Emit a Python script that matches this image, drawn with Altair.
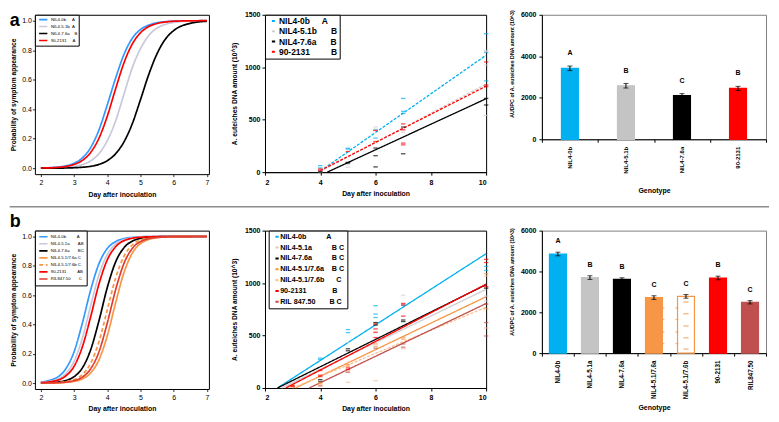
import json
import altair as alt
import pandas as pd

FONT = "Liberation Sans"
NB = "\u00a0"

# ======================= ROW a =======================
# ---- a1: probability of symptom appearance (R curves) ----
a1_genotypes = ["NIL4-0b", "NIL4-5.1b", "NIL4-7.6a", "90-2131"]
a1_labels = ["NIL4-0b" + NB * 5 + "A", "NIL4-5.1b" + NB * 2 + "A",
             "NIL4-7.6a" + NB * 4 + "B", "90-2131" + NB * 5 + "A"]
a1_colors = ["#3399FF", "#C8C8DC", "#000000", "#FF0000"]
a1_days = [2, 2.5, 3, 3.25, 3.5, 3.75, 4, 4.25, 4.5, 4.75, 5, 5.25, 5.5, 5.75, 6, 6.5, 7]
a1_nil4_0b = [0.002, 0.008, 0.034, 0.070, 0.14, 0.26, 0.43, 0.61, 0.77, 0.88, 0.94, 0.97, 0.986, 0.993, 0.997, 0.999, 1.0]
a1_nil4_51b = [0.001, 0.003, 0.012, 0.025, 0.050, 0.099, 0.187, 0.32, 0.50, 0.68, 0.81, 0.90, 0.95, 0.975, 0.988, 0.997, 0.999]
a1_nil4_76a = [0.0002, 0.0008, 0.0034, 0.0067, 0.013, 0.026, 0.051, 0.098, 0.178, 0.30, 0.465, 0.636, 0.777, 0.875, 0.933, 0.982, 0.996]
a1_90_2131 = [0.0013, 0.0058, 0.026, 0.053, 0.107, 0.204, 0.353, 0.538, 0.713, 0.841, 0.918, 0.960, 0.981, 0.991, 0.996, 0.999, 1.0]

# ---- a2: DNA amount over days (Excel scatter + fits) ----
a2_genotypes = ["NIL4-0b", "NIL4-5.1b", "NIL4-7.6a", "90-2131"]
a2_labels = ["NIL4-0b" + NB * 5 + "A", "NIL4-5.1b" + NB * 6 + "B",
             "NIL4-7.6a" + NB * 6 + "B", "90-2131" + NB * 9 + "B"]
a2_colors = ["#00B0F0", "#D0D0D0", "#000000", "#FF0000"]
a2_dashes = [[3, 1.5], [3, 1.5], [1, 0], [3, 1.5]]
a2_nil4_0b_day = [4, 4, 5, 5, 6, 6, 7, 7, 7, 10, 10, 10]
a2_nil4_0b_val = [62, 40, 228, 220, 405, 325, 703, 580, 560, 1320, 1140, 870]
a2_nil4_51b_day = [4, 4, 5, 5, 6, 6, 7, 10, 10, 10, 10]
a2_nil4_51b_val = [3, 20, 70, 47, 430, 410, 380, 1160, 1150, 1020, 540]
a2_nil4_76a_day = [4, 5, 5, 6, 6, 6, 7, 7, 10, 10]
a2_nil4_76a_val = [5, 93, 87, 230, 157, 50, 430, 175, 703, 640]
a2_90_2131_day = [4, 4, 5, 6, 6, 7, 7, 7, 7, 10, 10, 10]
a2_90_2131_val = [30, 17, 197, 397, 292, 460, 403, 277, 260, 1050, 830, 815]
a2_fit_start_day = [4, 4, 4.25, 4]
a2_fit_start_val = [10, 5, 0, 15]
a2_fit_end_day = [10, 10, 10, 10]
a2_fit_end_val = [1115, 840, 700, 820]

# ---- a3: AUDPC bars ----
a3_genotypes = ["NIL4-0b", "NIL4-5.1b", "NIL4-7.6a", "90-2131"]
a3_means = [3420, 2580, 2100, 2450]
a3_errs = [110, 110, 100, 100]
a3_letters = ["A", "B", "C", "B"]
a3_colors = ["#00B0F0", "#C4C4C4", "#000000", "#FF0000"]

# ======================= ROW b =======================
b1_genotypes = ["NIL4-0b", "NIL4-5.1a", "NIL4-7.6a", "NIL4-5.1/7.6a", "NIL4-5.1/7.6b", "90-2131", "RIL847.50"]
b1_labels = ["NIL4-0b" + NB * 9 + "A", "NIL4-5.1a" + NB * 7 + "AB" + NB * 3,
             "NIL4-7.6a" + NB * 7 + "BC", "NIL4-5.1/7.6a" + NB + "C",
             "NIL4-5.1/7.6b" + NB + "C", "90-2131" + NB * 9 + "AB", "RIL847.50" + NB * 7 + "C"]
b1_colors = ["#3399FF", "#C8C8DC", "#000000", "#F79646", "#F79646", "#FF0000", "#E03C31"]
b1_dashes = [[1, 0], [1, 0], [1, 0], [1, 0], [4, 2.5], [1, 0], [1, 0]]
b1_days = [2, 2.5, 2.75, 3, 3.25, 3.5, 3.75, 4, 4.25, 4.5, 4.75, 5, 5.5, 6, 7]
b1_nil4_0b = [0.007, 0.041, 0.098, 0.214, 0.41, 0.636, 0.815, 0.918, 0.965, 0.986, 0.994, 0.998, 1.0, 1.0, 1.0]
b1_nil4_51a = [0.004, 0.027, 0.065, 0.149, 0.307, 0.528, 0.739, 0.877, 0.947, 0.978, 0.991, 0.997, 1.0, 1.0, 1.0]
b1_nil4_76a = [0.001, 0.007, 0.018, 0.044, 0.104, 0.228, 0.426, 0.652, 0.826, 0.923, 0.968, 0.987, 0.998, 1.0, 1.0]
b1_nil4_5176a = [0.0003, 0.002, 0.005, 0.012, 0.029, 0.070, 0.159, 0.323, 0.547, 0.752, 0.885, 0.951, 0.992, 0.999, 1.0]
b1_nil4_5176b = [0.0006, 0.004, 0.010, 0.024, 0.058, 0.136, 0.283, 0.50, 0.717, 0.864, 0.942, 0.976, 0.996, 0.999, 1.0]
b1_90_2131 = [0.003, 0.020, 0.049, 0.115, 0.248, 0.453, 0.677, 0.841, 0.930, 0.971, 0.988, 0.995, 0.999, 1.0, 1.0]
b1_ril84750 = [0.0004, 0.003, 0.007, 0.017, 0.041, 0.098, 0.214, 0.41, 0.636, 0.815, 0.918, 0.965, 0.994, 0.999, 1.0]

b2_genotypes = b1_genotypes
b2_labels = ["NIL4-0b" + NB * 10 + "A", "NIL4-5.1a" + NB * 10 + "B" + NB + "C",
             "NIL4-7.6a" + NB * 10 + "B" + NB + "C", "NIL4-5.1/7.6a" + NB * 4 + "B" + NB + "C",
             "NIL4-5.1/7.6b" + NB * 6 + "C", "90-2131" + NB * 13 + "B",
             "RIL" + NB + "847.50" + NB * 7 + "B" + NB + "C"]
b2_colors = ["#00B0F0", "#CFCFCF", "#000000", "#F79646", "#FAC090", "#FF0000", "#C0504D"]
b2_dashes = [[1, 0], [1, 0], [1, 0], [1, 0], [3, 1.5], [1, 0], [1, 0]]
b2_nil4_0b_day = [4, 4, 5, 5, 6, 6, 6, 7, 10, 10]
b2_nil4_0b_val = [285, 272, 557, 528, 785, 705, 672, 790, 1160, 1120]
b2_nil4_51a_day = [4, 5, 6, 6, 7, 10, 10]
b2_nil4_51a_val = [70, 435, 620, 526, 885, 876, 830]
b2_nil4_76a_day = [4, 4, 5, 5, 6, 6, 7, 7, 10]
b2_nil4_76a_val = [80, 60, 374, 355, 624, 600, 648, 633, 952]
b2_nil4_5176a_day = [3, 4, 4, 5, 5, 6, 6, 7, 7, 10, 10]
b2_nil4_5176a_val = [9, 55, 40, 222, 207, 420, 398, 481, 465, 1089, 754]
b2_nil4_5176b_day = [4, 5, 5, 6, 7, 10, 10]
b2_nil4_5176b_val = [30, 161, 55, 70, 374, 1068, 572]
b2_90_2131_day = [3, 3, 4, 4, 4, 5, 5, 6, 6, 6, 6, 7, 7, 7, 10, 10, 10]
b2_90_2131_val = [24, 15, 167, 122, 110, 192, 176, 611, 563, 532, 481, 806, 791, 685, 1226, 1196, 967]
b2_ril84750_day = [4, 5, 6, 7, 7, 10, 10, 10]
b2_ril84750_val = [20, 150, 380, 420, 389, 800, 624, 496]
b2_fit_start_day = [2.45, 2.6, 2.45, 3.1, 3.0, 2.75, 3.6]
b2_fit_start_val = [0, 0, 0, 0, 0, 0, 0]
b2_fit_end_day = [10, 10, 10, 10, 10, 10, 10]
b2_fit_end_val = [1280, 940, 985, 870, 770, 990, 805]

b3_genotypes = b1_genotypes
b3_means = [4855, 3700, 3610, 2720, 2780, 3680, 2490]
b3_errs = [90, 90, 80, 90, 90, 90, 80]
b3_letters = ["A", "B", "B", "C", "C", "B", "C"]
b3_fills = ["#00B0F0", "#C4C4C4", "#000000", "#F79646", "#FFFFFF", "#FF0000", "#C0504D"]
b3_strokes = ["#00B0F0", "#C4C4C4", "#000000", "#F79646", "#F79646", "#FF0000", "#C0504D"]
# dashed pattern fill of the NIL4-5.1/7.6b bar (levels on the value axis)
b3_hatch_genotype = "NIL4-5.1/7.6b"
b3_hatch_center = [2500, 1930, 1330, 750, 200]
b3_hatch_edge = [2215, 1650, 1040, 470]


# ======================= helpers =======================
def long_df(names, xs, ys, xname, yname):
    rows = []
    for n, xl, yl in zip(names, xs, ys):
        for x, y in zip(xl, yl):
            rows.append({"genotype": n, xname: x, yname: y})
    return pd.DataFrame(rows)


def label_expr(names, shown):
    expr = "datum.label"
    for n, s in zip(reversed(names), reversed(shown)):
        expr = f"datum.label === {json.dumps(n)} ? {json.dumps(s, ensure_ascii=False)} : ({expr})"
    return expr


def r_axis(values, fmt, title, **kw):
    return alt.Axis(values=values, format=fmt, title=title, grid=False, domain=False,
                    ticks=True, tickSize=2.5, tickColor="black", tickWidth=0.8,
                    labelFont=FONT, labelFontSize=7, labelColor="black",
                    titleFont=FONT, titleFontWeight="bold", titleColor="black",
                    titleBaseline="middle", **kw)


def xl_axis(values, title, **kw):
    if values is not None:
        kw["values"] = values
        kw["format"] = "d"
    return alt.Axis(title=title, grid=False, domain=True,
                    domainColor="black", domainWidth=1, ticks=True, tickSize=3,
                    tickColor="black", tickWidth=1, labelFont=FONT, labelFontWeight="bold",
                    labelColor="black", titleFont=FONT, titleFontWeight="bold",
                    titleColor="black", titleBaseline="middle", **kw)


def panel_title(letter, offset):
    return alt.TitleParams(text=letter, anchor="start", frame="group", orient="top",
                           font=FONT, fontSize=18, fontWeight="bold", color="black",
                           dx=-25.3, offset=offset, baseline="top")


def r_legend(names, shown, padding, size, path, offset, rowpad):
    return alt.Legend(title=None, orient="none", legendX=0, legendY=0, direction="vertical",
                      padding=padding, rowPadding=rowpad, symbolType=path, symbolSize=size,
                      symbolStrokeWidth=1.6, labelFont=FONT, labelFontSize=4.3,
                      labelColor="black", labelOffset=offset, strokeColor="black",
                      fillColor="white", labelExpr=label_expr(names, shown))


def xl_legend(names, shown, x, padding, fsize, rowpad, offset):
    return alt.Legend(title=None, orient="none", legendX=x, legendY=0, direction="vertical",
                      padding=padding, rowPadding=rowpad, symbolType="M0.4,0H2.4",
                      symbolSize=11, symbolStrokeWidth=2, labelFont=FONT,
                      labelFontSize=fsize, labelFontWeight="bold", labelColor="black",
                      labelOffset=offset, strokeColor="black", fillColor="white",
                      labelExpr=label_expr(names, shown))


def curve_panel(df, names, colors, dashes, legend, width, height, letter, title_offset,
                titleY_x, extra=None):
    xscale = alt.Scale(domain=[1.82, 7.06], nice=False, zero=False)
    yscale = alt.Scale(domain=[-0.04, 1.04], nice=False, zero=False)
    lines = alt.Chart(df).mark_line(strokeWidth=1.7, interpolate="monotone").encode(
        x=alt.X("day:Q", scale=xscale,
                axis=r_axis([2, 3, 4, 5, 6, 7], "d", "Day after inoculation",
                            labelPadding=2, titleFontSize=6.9, titleY=titleY_x)),
        y=alt.Y("p:Q", scale=yscale,
                axis=r_axis([0, 0.2, 0.4, 0.6, 0.8, 1.0], ".1f",
                            "Probability of symptom appearance",
                            labelPadding=1, titleFontSize=6.7, titleX=-21.8)),
        color=alt.Color("genotype:N", scale=alt.Scale(domain=names, range=colors), legend=legend),
        strokeDash=alt.StrokeDash("genotype:N", scale=alt.Scale(domain=names, range=dashes),
                                  legend=None),
    )
    layers = [lines]
    if extra is not None:
        layers.append(extra)
    return alt.layer(*layers).properties(
        width=width, height=height, title=panel_title(letter, title_offset),
        view=alt.ViewBackground(stroke="black", strokeWidth=1))


def dna_panel(pts, fits, names, colors, dashes, legend, width, height, titleY_x):
    xscale = alt.Scale(domain=[2, 10], nice=False, zero=False)
    yscale = alt.Scale(domain=[0, 1500], nice=False)
    xax = xl_axis([2, 4, 6, 8, 10], "Day after inoculation", labelFontSize=7,
                  labelPadding=3, titleFontSize=6.9, titleY=titleY_x)
    yax = xl_axis([0, 500, 1000, 1500], "A. euteiches DNA amount (10^3)", labelFontSize=7,
                  labelPadding=2, titleFontSize=6.7, titleX=-30.5)
    lines = alt.Chart(fits).mark_line(strokeWidth=1.3).encode(
        x=alt.X("day:Q", scale=xscale, axis=xax),
        y=alt.Y("value:Q", scale=yscale, axis=yax),
        color=alt.Color("genotype:N", scale=alt.Scale(domain=names, range=colors), legend=legend),
        strokeDash=alt.StrokeDash("genotype:N", scale=alt.Scale(domain=names, range=dashes),
                                  legend=None),
        detail="genotype:N",
    )
    ticks = alt.Chart(pts).mark_tick(orient="horizontal", size=4.5, thickness=1.3).encode(
        x=alt.X("day:Q", scale=xscale),
        y=alt.Y("value:Q", scale=yscale),
        fill=alt.Fill("genotype:N", scale=alt.Scale(domain=names, range=colors), legend=None),
    )
    return alt.layer(lines, ticks).properties(
        width=width, height=height, view=alt.ViewBackground(stroke="black", strokeWidth=1))


def bar_panel(df, names, fills, strokes, width, height, label_size, titleX_y, titleY_y,
              ytitle, letter_dy, hatch=None):
    xax = xl_axis(None, "Genotype", labelAngle=-90, labelFontSize=label_size, labelPadding=4,
                  tickBand="extent", titleFontSize=7, titleY=titleX_y)
    yax = xl_axis([0, 1000, 2000, 3000, 4000, 5000, 6000], ytitle, labelFontSize=7,
                  labelPadding=3, titleFontSize=5.3, titleX=-31, titleY=titleY_y)
    x = alt.X("genotype:N", sort=names, scale=alt.Scale(domain=names, paddingInner=0,
                                                        paddingOuter=0), axis=xax)
    xs = alt.X("genotype:N", sort=names)
    yscale = alt.Scale(domain=[0, 6000], nice=False)
    base = alt.Chart(df).transform_calculate(
        lo="datum.mean - datum.err", hi="datum.mean + datum.err")
    bars = base.mark_bar(width=17, strokeWidth=1.2).encode(
        x=x, y=alt.Y("mean:Q", scale=yscale, axis=yax),
        fill=alt.Fill("genotype:N", scale=alt.Scale(domain=names, range=fills), legend=None),
        stroke=alt.Stroke("genotype:N", scale=alt.Scale(domain=names, range=strokes), legend=None),
    )
    layers = [bars]
    if hatch is not None:
        gname, centers, edges, col = hatch
        cdf = pd.DataFrame({"genotype": [gname] * len(centers), "v": centers})
        edf = pd.DataFrame({"genotype": [gname] * len(edges), "v": edges})
        layers.append(alt.Chart(cdf).mark_tick(color=col, size=5.3, thickness=1.3).encode(
            x=xs, y=alt.Y("v:Q", scale=yscale)))
        for off in (-7.0, 7.0):
            layers.append(alt.Chart(edf).mark_tick(color=col, size=2.8, thickness=1.3).encode(
                x=xs, y=alt.Y("v:Q", scale=yscale), xOffset=alt.value(off)))
    stem = base.mark_rule(color="black", strokeWidth=1).encode(
        x=xs, y=alt.Y("lo:Q", scale=yscale), y2="hi:Q")
    cap_lo = base.mark_tick(color="black", size=5, thickness=1).encode(
        x=xs, y=alt.Y("lo:Q", scale=yscale))
    cap_hi = base.mark_tick(color="black", size=5, thickness=1).encode(
        x=xs, y=alt.Y("hi:Q", scale=yscale))
    txt = base.mark_text(dy=letter_dy, font=FONT, fontWeight="bold", fontSize=7,
                         color="black", baseline="middle").encode(
        x=xs, y=alt.Y("hi:Q", scale=yscale), text="letter:N")
    layers += [stem, cap_lo, cap_hi, txt]
    return alt.layer(*layers).properties(
        width=width, height=height, view=alt.ViewBackground(stroke="#808080", strokeWidth=1))


# ======================= build panels =======================
a1_df = long_df(a1_genotypes, [a1_days] * 4,
                [a1_nil4_0b, a1_nil4_51b, a1_nil4_76a, a1_90_2131], "day", "p")
separator = alt.Chart(pd.DataFrame({"k": [0]})).mark_rule(color="#8C8C8C", strokeWidth=1.5).encode(
    x=alt.value(-25.3), x2=alt.value(737), y=alt.value(192.7))
a1 = curve_panel(a1_df, a1_genotypes, a1_colors, [[1, 0]] * 4,
                 r_legend(a1_genotypes, a1_labels, 1.35, 28, "M-0.23,0H2.9", 7.75, 0),
                 174.7, 160, "a", -15.7, 20.7, extra=separator)

a2_pts = long_df(a2_genotypes,
                 [a2_nil4_0b_day, a2_nil4_51b_day, a2_nil4_76a_day, a2_90_2131_day],
                 [a2_nil4_0b_val, a2_nil4_51b_val, a2_nil4_76a_val, a2_90_2131_val], "day", "value")
a2_fit = long_df(a2_genotypes,
                 [[s, e] for s, e in zip(a2_fit_start_day, a2_fit_end_day)],
                 [[s, e] for s, e in zip(a2_fit_start_val, a2_fit_end_val)], "day", "value")
a2 = dna_panel(a2_pts, a2_fit, a2_genotypes, a2_colors, a2_dashes,
               xl_legend(a2_genotypes, a2_labels, 0, 2, 8.5, 1.3, 3.5), 222, 158, 21)

a3_df = pd.DataFrame({"genotype": a3_genotypes, "mean": a3_means, "err": a3_errs,
                      "letter": a3_letters})
a3 = bar_panel(a3_df, a3_genotypes, a3_colors, a3_colors, 225, 125, 6, 51.4, 49,
               "AUDPC of A. euteiches DNA amount (10^3)", -13)

b1_df = long_df(b1_genotypes, [b1_days] * 7,
                [b1_nil4_0b, b1_nil4_51a, b1_nil4_76a, b1_nil4_5176a, b1_nil4_5176b,
                 b1_90_2131, b1_ril84750], "day", "p")
b1 = curve_panel(b1_df, b1_genotypes, b1_colors, b1_dashes,
                 r_legend(b1_genotypes, b1_labels, 2.7, 25, "M-0.72,0H2.6", 6.3, 0.05),
                 174.7, 159, "b", -1, 20)

b2_pts = long_df(b2_genotypes,
                 [b2_nil4_0b_day, b2_nil4_51a_day, b2_nil4_76a_day, b2_nil4_5176a_day,
                  b2_nil4_5176b_day, b2_90_2131_day, b2_ril84750_day],
                 [b2_nil4_0b_val, b2_nil4_51a_val, b2_nil4_76a_val, b2_nil4_5176a_val,
                  b2_nil4_5176b_val, b2_90_2131_val, b2_ril84750_val], "day", "value")
b2_fit = long_df(b2_genotypes,
                 [[s, e] for s, e in zip(b2_fit_start_day, b2_fit_end_day)],
                 [[s, e] for s, e in zip(b2_fit_start_val, b2_fit_end_val)], "day", "value")
b2 = dna_panel(b2_pts, b2_fit, b2_genotypes, b2_colors, b2_dashes,
               xl_legend(b2_genotypes, b2_labels, 3.7, 2.5, 7.2, 1.9, 1.8), 222, 158, 20.5)

b3_df = pd.DataFrame({"genotype": b3_genotypes, "mean": b3_means, "err": b3_errs,
                      "letter": b3_letters})
b3 = bar_panel(b3_df, b3_genotypes, b3_fills, b3_strokes, 225, 123, 6.3, 55, 51,
               "AUDPC of A. euteiches DNA amount (10^3)", -11,
               hatch=(b3_hatch_genotype, b3_hatch_center, b3_hatch_edge, "#F79646"))

chart = alt.concat(a1, a2, a3, b1, b2, b3, columns=3, bounds="flush",
                   spacing={"row": 56.7, "column": 56}).resolve_scale(
    color="independent", strokeDash="independent", fill="independent", stroke="independent"
).resolve_legend(
    color="independent", strokeDash="independent", fill="independent", stroke="independent"
).properties(padding=0, background="white").configure_view(stroke=None)

chart.save("out.html", embed_options={"renderer": "svg", "actions": False})
